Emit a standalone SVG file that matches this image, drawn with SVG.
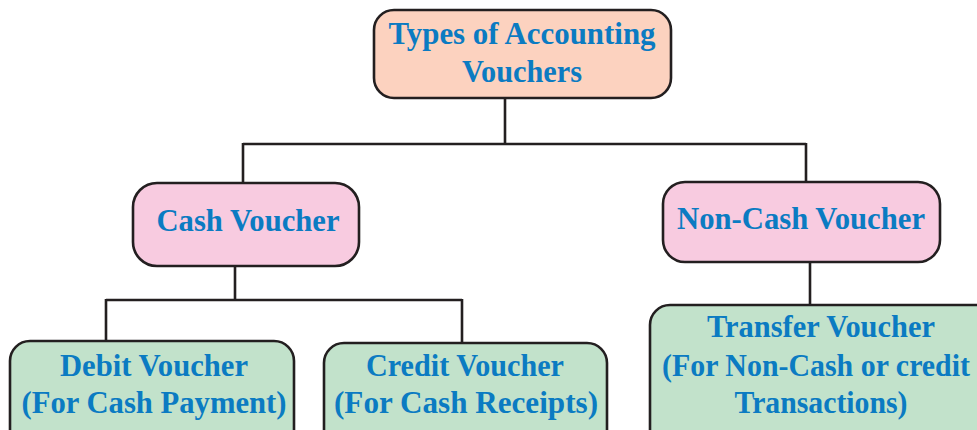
<svg xmlns="http://www.w3.org/2000/svg" width="977" height="430" viewBox="0 0 977 430">
<style>
.box{stroke:#231f20;stroke-width:2.6}
.top{fill:#fcd2bf}
.mid{fill:#f8cbe0}
.leaf{fill:#c2e2cb}
.lbl{font-family:"Liberation Serif","Times New Roman",serif;font-weight:bold;font-size:32px;fill:#0b7bc2;text-anchor:middle}
.conn{fill:none;stroke:#231f20;stroke-width:2.6}
</style>
<rect width="977" height="430" fill="#ffffff"/>
<g id="connectors">
<path class="conn" d="M505,98 V144 M243,144 H806 M243,143 V183 M806,143 V182"/>
<path class="conn" d="M235,266 V300 M106,300 H462 M106,299 V341 M462,299 V343"/>
<path class="conn" d="M810,262 V305"/>
</g>
<g id="root">
<rect class="box top" x="374" y="10" width="297" height="88" rx="20"/>
<text class="lbl" x="522" y="44" textLength="267" lengthAdjust="spacingAndGlyphs">Types of Accounting</text>
<text class="lbl" x="522" y="82" textLength="120" lengthAdjust="spacingAndGlyphs">Vouchers</text>
</g>
<g id="cash">
<rect class="box mid" x="133" y="183" width="226" height="83" rx="24"/>
<text class="lbl" x="248" y="231" textLength="183" lengthAdjust="spacingAndGlyphs">Cash Voucher</text>
</g>
<g id="noncash">
<rect class="box mid" x="663" y="182" width="277" height="80" rx="22"/>
<text class="lbl" x="801" y="229" textLength="248" lengthAdjust="spacingAndGlyphs">Non-Cash Voucher</text>
</g>
<g id="debit">
<rect class="box leaf" x="10" y="341" width="284" height="110" rx="20"/>
<text class="lbl" x="154" y="376" textLength="188" lengthAdjust="spacingAndGlyphs">Debit Voucher</text>
<text class="lbl" x="154" y="413" textLength="265" lengthAdjust="spacingAndGlyphs">(For Cash Payment)</text>
</g>
<g id="credit">
<rect class="box leaf" x="324" y="343" width="283" height="110" rx="20"/>
<text class="lbl" x="465" y="376" textLength="198" lengthAdjust="spacingAndGlyphs">Credit Voucher</text>
<text class="lbl" x="466" y="413" textLength="264" lengthAdjust="spacingAndGlyphs">(For Cash Receipts)</text>
</g>
<g id="transfer">
<rect class="box leaf" x="650" y="305" width="360" height="150" rx="20"/>
<text class="lbl" x="821" y="337" textLength="228" lengthAdjust="spacingAndGlyphs">Transfer Voucher</text>
<text class="lbl" x="662" y="376" style="text-anchor:start" textLength="308" lengthAdjust="spacingAndGlyphs">(For Non-Cash or credit</text>
<text class="lbl" x="821" y="413" textLength="173" lengthAdjust="spacingAndGlyphs">Transactions)</text>
</g>
</svg>
